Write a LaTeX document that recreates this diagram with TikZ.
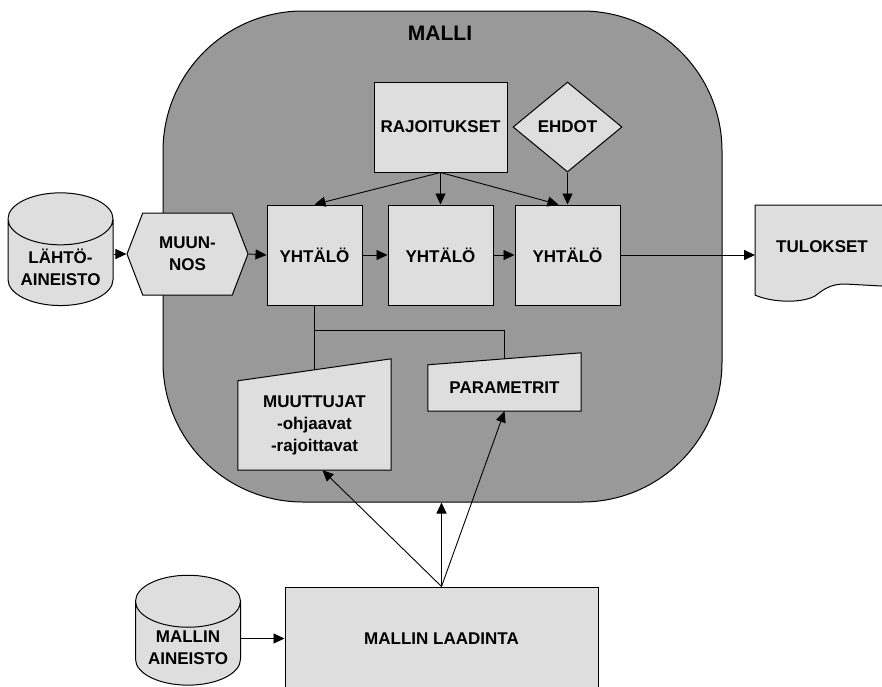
\documentclass[tikz,border=0pt]{standalone}
\usepackage{fontspec}
\setmainfont{Liberation Sans}
\usepackage{tikz}
\usetikzlibrary{positioning,
                arrows.meta,                % arrow tips
                shapes.geometric,           % cylinder, diamond
                shapes.symbols,             % signal
                calc}

\definecolor{malligray}{gray}{0.6}
\definecolor{boxgray}{gray}{0.87}

\tikzset{every node/.style={font=\bfseries\fontsize{17}{22}\selectfont, align=center},
         box/.style={draw, fill=boxgray, line width=1pt},
         cyl/.style={box, cylinder, shape border rotate=90, aspect=0.6,
                     cylinder uses custom fill, cylinder body fill=boxgray,
                     cylinder end fill=boxgray, minimum width=105pt, minimum height=105pt},
         arr/.style={-{Triangle[length=11pt,width=10pt]}, line width=0.9pt}}

\begin{document}
\begin{tikzpicture}[x=1pt, y=1pt]
                \path[use as bounding box, clip] (0,0) rectangle (882,-686);

                \node (malli) [draw, fill=malligray, line width=1pt, rounded corners=140pt,
                               minimum width=559pt, minimum height=491pt] at (442.5,-256.5) {};
                \node (mallitxt) at (440,-33) {\fontsize{21}{25}\selectfont MALLI};

                \node (raj) [box, minimum width=133pt, minimum height=90pt] at (440.5,-127) {RAJOITUKSET};
                \node (ehdot) [box, diamond, inner sep=0pt, minimum width=109pt, minimum height=90pt] at (567.5,-127) {EHDOT};

                \node (lahto) [cyl] at (60.5,-267) {LÄHTÖ-\\AINEISTO};
                \node (muun) [box, signal, signal to=east and west, signal pointer angle=138,
                              minimum width=121pt, minimum height=82pt] at (187.5,-254) {MUUN-\\NOS};
                \node (yh1) [box, minimum width=95pt, minimum height=100pt] at (314.5,-255) {YHTÄLÖ};
                \node (yh2) [box, minimum width=105pt, minimum height=100pt] at (440.5,-255) {YHTÄLÖ};
                \node (yh3) [box, minimum width=105pt, minimum height=100pt] at (567.5,-255) {YHTÄLÖ};

                \draw[box] (755,-205) -- (900,-205) -- (900,-287) -- (845,-284)
                      .. controls (832,-284) and (825,-288) .. (815,-296)
                      .. controls (800,-304) and (770,-302) .. (755,-295) -- cycle;
                \node (tul) at (822,-247) {TULOKSET};
                \coordinate (tulin) at (755,-255);

                \node (muut) [minimum width=153pt, minimum height=89pt] at (314.5,-425.5) {};
                \node (param) [minimum width=153pt, minimum height=46pt] at (504.5,-388) {};

                \draw[line width=0.9pt] (yh1.south) -- ($(yh1.south |- muut.north)+(0,11)$);
                \draw[line width=0.9pt] ($(yh1.south)+(0,-25)$) -| ($(param.north)+(0,6)$);

                \draw[box] (muut.south west) -- (muut.south east) -- ($(muut.north east)+(0,22)$)
                      -- (muut.north west) -- cycle;
                \draw[box] (param.south west) -- (param.south east) -- ($(param.north east)+(0,12)$)
                      -- (param.north west) -- cycle;
                \node (muuttxt) at (muut) {MUUTTUJAT\\-ohjaavat\\-rajoittavat};
                \node (paramtxt) at (param) {PARAMETRIT};

                \node (maine) [cyl] at (188,-648) {MALLIN\\AINEISTO};
                \node (laad) [box, minimum width=313pt, minimum height=103pt] at (441.5,-638.5) {MALLIN LAADINTA};

                \draw[arr] (lahto.east |- muun.west) -- (muun.west);
                \draw[arr] (muun.east) -- (yh1.west);
                \draw[arr] (yh1.east) -- (yh2.west);
                \draw[arr] (yh2.east) -- (yh3.west);
                \draw[arr] (yh3.east) -- (tulin);

                \draw[arr] (raj.south) -- (yh1.north);
                \draw[arr] (raj.south) -- (yh2.north);
                \draw[arr] (raj.south) -- ([xshift=-9pt]yh3.north);
                \draw[arr] (ehdot.south) -- (yh3.north);

                \draw[arr] (maine.east |- laad.west) -- (laad.west);
                \draw[arr] (laad.north) -- ([xshift=8pt]muut.south);
                \draw[arr] (laad.north) -- (laad.north |- malli.south);
                \draw[arr] (laad.north) -- (param.south);

\end{tikzpicture}
\end{document}
